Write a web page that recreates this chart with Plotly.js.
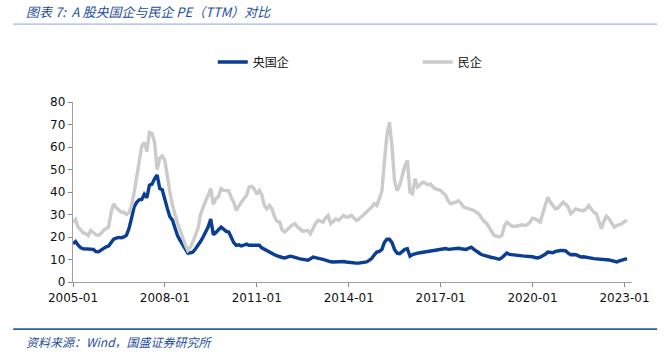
<!DOCTYPE html>
<html>
<head>
<meta charset="utf-8">
<script src="https://cdn.plot.ly/plotly-3.0.1.min.js"></script>
<style>
html,body{margin:0;padding:0;background:#fff;}
#chart{width:669px;height:356px;}
</style>
</head>
<body>
<div id="chart"></div>
<script>
// Monthly observations, 2005-01 .. 2023-02
const startYear = 2005;
const startMonth = 1;

const soePE = [
17.0,18.0,16.5,15.3,14.8,14.7,14.7,14.8,14.5,13.5,13.4,14.2,
15.0,15.6,16.0,17.5,19.0,19.5,19.8,19.7,20.0,20.8,24.0,28.5,
33.5,35.5,36.5,36.7,39.0,37.5,43.0,43.5,46.0,47.5,41.5,41.0,
36.0,32.5,29.0,27.5,24.0,20.5,18.5,16.5,14.5,12.8,13.0,13.3,
14.8,16.3,18.0,20.0,22.5,24.5,28.0,21.0,22.0,23.0,24.4,23.5,
22.5,22.2,20.0,17.5,16.3,16.5,16.0,16.5,16.8,16.3,16.3,16.0,
16.3,16.3,15.2,14.5,14.0,13.4,12.6,12.1,11.6,11.1,10.9,10.7,
11.2,11.5,11.3,11.1,10.6,10.3,10.0,9.9,9.7,10.3,11.1,10.8,
10.4,10.3,10.1,9.6,9.2,9.0,8.9,9.0,9.2,9.2,9.1,8.9,
8.7,8.5,8.4,8.4,8.4,8.5,8.7,8.9,9.6,10.4,12.0,13.3,
13.6,14.5,17.5,19.0,19.0,17.5,14.5,12.8,12.6,13.5,14.5,14.8,
11.5,12.2,12.6,12.8,13.0,13.2,13.5,13.9,14.0,14.3,14.5,14.6,
14.6,14.8,14.9,14.5,14.6,15.0,15.1,15.0,14.8,14.7,14.5,15.0,
15.5,14.5,13.6,13.0,12.2,11.8,11.4,11.1,10.9,10.7,10.4,10.1,
10.8,12.0,12.9,12.3,12.1,12.0,11.9,11.8,11.6,11.5,11.5,11.4,
11.2,10.9,10.7,11.0,11.5,12.3,13.3,13.1,13.0,13.6,14.0,14.0,
14.0,13.8,12.8,12.1,12.2,12.1,11.6,11.1,11.2,11.1,10.9,10.6,
10.4,10.3,10.1,10.1,10.2,10.1,9.8,9.5,9.3,8.9,9.4,9.7,
10.1,10.4
];

const privatePE = [
26.6,27.8,24.5,23.0,21.9,21.5,20.7,22.9,21.8,21.0,20.7,21.5,
23.0,23.7,24.5,31.0,34.8,33.0,31.8,31.0,31.0,30.0,31.0,34.0,
40.0,47.5,55.0,60.5,62.0,58.0,66.5,66.0,62.0,50.0,55.0,56.0,
54.0,46.0,40.0,34.0,29.5,26.0,23.0,19.5,16.5,14.0,15.5,18.0,
21.0,24.0,30.0,33.5,36.0,38.5,41.5,34.5,37.0,38.0,41.5,40.7,
40.7,40.5,37.7,35.5,31.8,34.0,35.5,37.0,38.5,42.2,42.5,41.4,
39.0,40.7,38.8,34.0,32.5,34.0,32.5,29.0,27.0,26.6,23.0,22.2,
23.5,24.4,25.5,25.9,24.4,23.5,22.5,22.7,22.9,21.4,24.0,26.0,
27.4,27.0,26.6,28.5,29.6,25.9,27.0,28.1,27.4,28.4,29.6,28.8,
29.0,29.6,28.5,27.4,28.0,28.8,30.0,31.1,32.0,33.3,34.8,34.0,
37.0,40.5,53.0,65.0,71.0,60.0,45.0,40.5,43.0,47.5,51.5,54.0,
40.0,39.2,45.9,42.2,43.5,44.4,44.0,43.2,43.6,42.2,41.4,41.0,
40.7,39.5,38.5,36.0,34.8,35.2,35.5,36.2,35.0,33.3,33.0,32.5,
32.2,31.8,31.0,30.3,28.5,27.0,26.2,24.5,22.9,20.7,20.4,20.0,
20.7,25.0,26.6,25.9,24.8,24.7,25.0,25.2,25.4,25.1,25.5,26.5,
28.4,28.1,27.5,26.6,30.3,34.0,37.7,35.5,34.0,32.5,33.0,34.5,
35.5,34.5,33.3,30.3,31.5,32.5,32.2,31.8,31.8,32.5,34.0,32.5,
31.0,30.3,26.5,23.7,27.0,29.3,28.1,26.0,24.4,25.1,25.5,25.9,
26.9,27.4
];

const tickLabels = ['2005-01','2008-01','2011-01','2014-01','2017-01','2020-01','2023-01'];
const seriesNames = ['央国企','民企'];
const titleText = '图表 7:  A 股央国企与民企 PE（TTM）对比';
const sourceText = '资料来源：Wind，国盛证券研究所';

// month category list
const months = [];
for (let i = 0; i < soePE.length; i++) {
  const y = startYear + Math.floor((startMonth - 1 + i) / 12);
  const m = ((startMonth - 1 + i) % 12) + 1;
  months.push(y + '-' + (m < 10 ? '0' + m : m) + '-01');
}
const tickVals = tickLabels.map(t => t + '-01');

const traces = [
  {x: months, y: soePE, name: seriesNames[0], type: 'scatter', mode: 'lines',
   line: {color: '#0a3d94', width: 3.4}},
  {x: months, y: privatePE, name: seriesNames[1], type: 'scatter', mode: 'lines',
   line: {color: '#cbcbcb', width: 3.4}}
];

const tickFont = {family: 'DejaVu Sans, sans-serif', size: 12, color: '#111'};
const blue = '#1f4e9e';

const layout = {
  width: 669, height: 356,
  margin: {l: 73, r: 37, t: 102, b: 74, pad: 0},
  paper_bgcolor: '#fff', plot_bgcolor: '#fff',
  showlegend: true,
  legend: {
    orientation: 'h', x: 0.25, y: 1.222, xanchor: 'left', yanchor: 'middle',
    font: {family: 'Noto Sans CJK SC, sans-serif', size: 12, color: '#111'},
    entrywidth: 160, entrywidthmode: 'pixels', bgcolor: 'rgba(0,0,0,0)'
  },
  xaxis: {
    type: 'date', range: ['2005-01-01', '2023-04-01'],
    tickmode: 'array', tickvals: tickVals, ticktext: tickLabels,
    ticks: 'outside', ticklen: 4, tickcolor: '#888', tickwidth: 1,
    showline: true, linecolor: '#a0a0a0', linewidth: 1.3,
    showgrid: false, zeroline: false, tickfont: tickFont, fixedrange: true
  },
  yaxis: {
    range: [0, 80], tickmode: 'linear', tick0: 0, dtick: 10,
    ticks: 'outside', ticklen: 4, tickcolor: '#888', tickwidth: 1,
    showline: true, linecolor: '#a0a0a0', linewidth: 1.3,
    showgrid: false, zeroline: false, tickfont: tickFont, fixedrange: true
  },
  shapes: [
    {type: 'line', xref: 'paper', yref: 'paper', x0: -0.107, x1: 1.045, y0: 1.433, y1: 1.433,
     line: {color: '#9db8dd', width: 1.3}},
    {type: 'line', xref: 'paper', yref: 'paper', x0: -0.107, x1: 1.045, y0: -0.262, y1: -0.262,
     line: {color: '#2d5ea8', width: 1.8}}
  ],
  annotations: [
    {text: titleText, xref: 'paper', yref: 'paper', x: -0.0877, y: 1.505,
     xanchor: 'left', yanchor: 'middle', showarrow: false,
     font: {family: 'Noto Sans CJK SC, sans-serif', size: 13, color: blue, style: 'italic'}},
    {text: sourceText, xref: 'paper', yref: 'paper', x: -0.0877, y: -0.33,
     xanchor: 'left', yanchor: 'middle', showarrow: false,
     font: {family: 'Noto Sans CJK SC, sans-serif', size: 12, color: blue, style: 'italic'}}
  ]
};

Plotly.newPlot('chart', traces, layout, {displayModeBar: false, staticPlot: true});
</script>
</body>
</html>
